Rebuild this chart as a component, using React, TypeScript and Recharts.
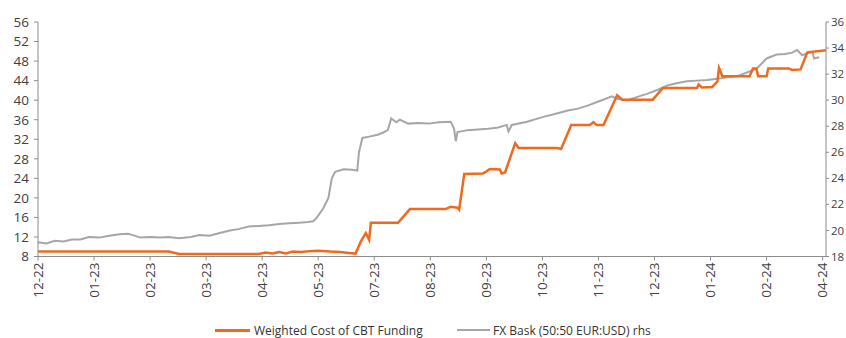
import { LineChart, Line, XAxis, YAxis, Legend } from "recharts"

const ORANGE = "#f0691c"
const GREY = "#a6a6a6"
const AXIS = "#8c8c8c"
const TEXT = "#404040"
const FONT = "'Open Sans', sans-serif"

// x = days from the first observation, one label every 33 days
const dayTicks = [0, 33, 66, 99, 132, 165, 198, 231, 264, 297, 330, 363, 396, 429, 462]
const tickLabels = ["12-22", "01-23", "02-23", "03-23", "04-23", "05-23", "07-23", "08-23", "09-23", "10-23", "11-23", "12-23", "01-24", "02-24", "04-24"]

const leftTicks = [8, 12, 16, 20, 24, 28, 32, 36, 40, 44, 48, 52, 56]
const rightTicks = [18, 20, 22, 24, 26, 28, 30, 32, 34, 36]

// Weighted Cost of CBT Funding (%, lhs)
const fundingDays = [0, 77, 83, 130, 134, 138, 142, 146, 150, 155, 160, 165, 172, 178, 183, 187, 190, 193, 195, 196, 212, 219, 240, 243, 247, 248, 251, 262, 264, 266, 272, 273, 275, 281, 283, 306, 308, 314, 325, 327, 329, 333, 341, 344, 362, 368, 388, 389, 391, 397, 400, 401, 403, 419, 421, 423, 424, 429, 430, 442, 444, 449, 453, 464]
const fundingRate = [9.0, 9.0, 8.5, 8.5, 8.8, 8.6, 8.9, 8.6, 9.0, 8.9, 9.1, 9.2, 9.0, 8.9, 8.7, 8.6, 11.0, 12.8, 11.4, 14.9, 14.9, 17.7, 17.7, 18.2, 18.0, 17.6, 24.9, 25.0, 25.4, 25.9, 25.8, 25.0, 25.2, 31.2, 30.2, 30.2, 30.0, 34.9, 34.9, 35.5, 34.9, 34.9, 41.0, 40.1, 40.1, 42.5, 42.5, 43.2, 42.6, 42.7, 43.8, 46.6, 44.9, 44.9, 46.5, 46.5, 44.9, 44.9, 46.5, 46.5, 46.2, 46.3, 49.8, 50.2]

// FX basket (50:50 EUR:USD), rhs
const fxDays = [0, 5, 10, 15, 20, 25, 30, 36, 42, 48, 53, 57, 60, 66, 72, 77, 83, 90, 95, 101, 107, 113, 118, 124, 130, 136, 142, 148, 154, 159, 162, 164, 168, 171, 173, 175, 180, 185, 188, 189, 191, 195, 200, 203, 206, 208, 211, 213, 218, 224, 230, 236, 243, 245, 246, 247, 253, 259, 265, 271, 276, 277, 279, 288, 297, 306, 312, 318, 324, 330, 338, 341, 347, 353, 359, 365, 371, 376, 382, 388, 394, 400, 406, 412, 417, 423, 426, 429, 435, 440, 444, 447, 450, 453, 456, 457, 460]
const fxBasket = [19.1, 19.0, 19.2, 19.15, 19.3, 19.3, 19.5, 19.45, 19.6, 19.7, 19.75, 19.6, 19.45, 19.5, 19.45, 19.5, 19.4, 19.5, 19.65, 19.6, 19.8, 20.0, 20.1, 20.3, 20.35, 20.4, 20.5, 20.55, 20.6, 20.65, 20.7, 20.95, 21.7, 22.5, 24.0, 24.5, 24.7, 24.65, 24.6, 26.0, 27.1, 27.2, 27.35, 27.5, 27.7, 28.6, 28.3, 28.5, 28.2, 28.25, 28.2, 28.3, 28.35, 27.8, 26.85, 27.55, 27.7, 27.75, 27.8, 27.9, 28.1, 27.6, 28.1, 28.35, 28.7, 29.0, 29.2, 29.35, 29.6, 29.9, 30.3, 30.1, 30.0, 30.25, 30.5, 30.8, 31.15, 31.3, 31.45, 31.5, 31.55, 31.65, 31.75, 31.85, 32.1, 32.4, 32.8, 33.2, 33.5, 33.55, 33.65, 33.85, 33.45, 33.6, 33.7, 33.2, 33.3]

const fundingData = fundingDays.map((d, i) => ({ day: d, rate: fundingRate[i] }))
const fxData = fxDays.map((d, i) => ({ day: d, fx: fxBasket[i] }))

const DateTick = (props: any) => {
  const { x, y, payload } = props
  const idx = dayTicks.indexOf(payload.value)
  return (
    <text
      x={x}
      y={y}
      transform={`rotate(-90, ${x}, ${y})`}
      textAnchor="end"
      dy="0.35em"
      fill={TEXT}
      fontSize={13.5}
      fontFamily={FONT}
    >
      {tickLabels[idx]}
    </text>
  )
}

const renderLegend = () => (
  <div style={{ position: "relative", height: 31, fontFamily: FONT, fontSize: 12, color: "#333" }}>
    <div style={{ position: "absolute", left: 215, top: 15, display: "flex", alignItems: "center", whiteSpace: "nowrap" }}>
      <span style={{ display: "inline-block", width: 35, height: 3, background: ORANGE, marginRight: 4 }} />
      <span>Weighted Cost of CBT Funding</span>
    </div>
    <div style={{ position: "absolute", left: 457, top: 15, display: "flex", alignItems: "center", whiteSpace: "nowrap" }}>
      <span style={{ display: "inline-block", width: 33, height: 2, background: GREY, marginRight: 3 }} />
      <span>FX Bask (50:50 EUR:USD) rhs</span>
    </div>
  </div>
)

export default function App() {
  return (
    <div style={{ position: "absolute", left: 0, top: 0, width: 846, height: 338, background: "#fff" }}>
      <LineChart width={846} height={338} margin={{ top: 22, right: 0, bottom: 0, left: 0 }}>
        <XAxis
          dataKey="day"
          type="number"
          domain={[0, 464]}
          ticks={dayTicks}
          interval={0}
          tick={<DateTick />}
          tickSize={4}
          tickMargin={2}
          height={50}
          stroke={AXIS}
          allowDuplicatedCategory={false}
        />
        <YAxis
          yAxisId="left"
          domain={[8, 56]}
          ticks={leftTicks}
          interval={0}
          width={38}
          tickSize={4}
          tickMargin={5}
          stroke={AXIS}
          tick={{ fill: TEXT, fontSize: 13.5, fontFamily: FONT }}
        />
        <YAxis
          yAxisId="right"
          orientation="right"
          domain={[18, 36]}
          ticks={rightTicks}
          interval={0}
          width={20}
          tickSize={3}
          tickMargin={2}
          stroke={AXIS}
          tick={{ fill: TEXT, fontSize: 11.5, fontFamily: FONT, textAnchor: "start" }}
        />
        <Legend verticalAlign="bottom" height={31.5} content={renderLegend} />
        <Line
          yAxisId="right"
          data={fxData}
          dataKey="fx"
          type="linear"
          stroke={GREY}
          strokeWidth={2}
          dot={false}
          isAnimationActive={false}
          name="FX Bask (50:50 EUR:USD) rhs"
        />
        <Line
          yAxisId="left"
          data={fundingData}
          dataKey="rate"
          type="linear"
          stroke={ORANGE}
          strokeWidth={2.5}
          dot={false}
          isAnimationActive={false}
          name="Weighted Cost of CBT Funding"
        />
      </LineChart>
    </div>
  )
}
